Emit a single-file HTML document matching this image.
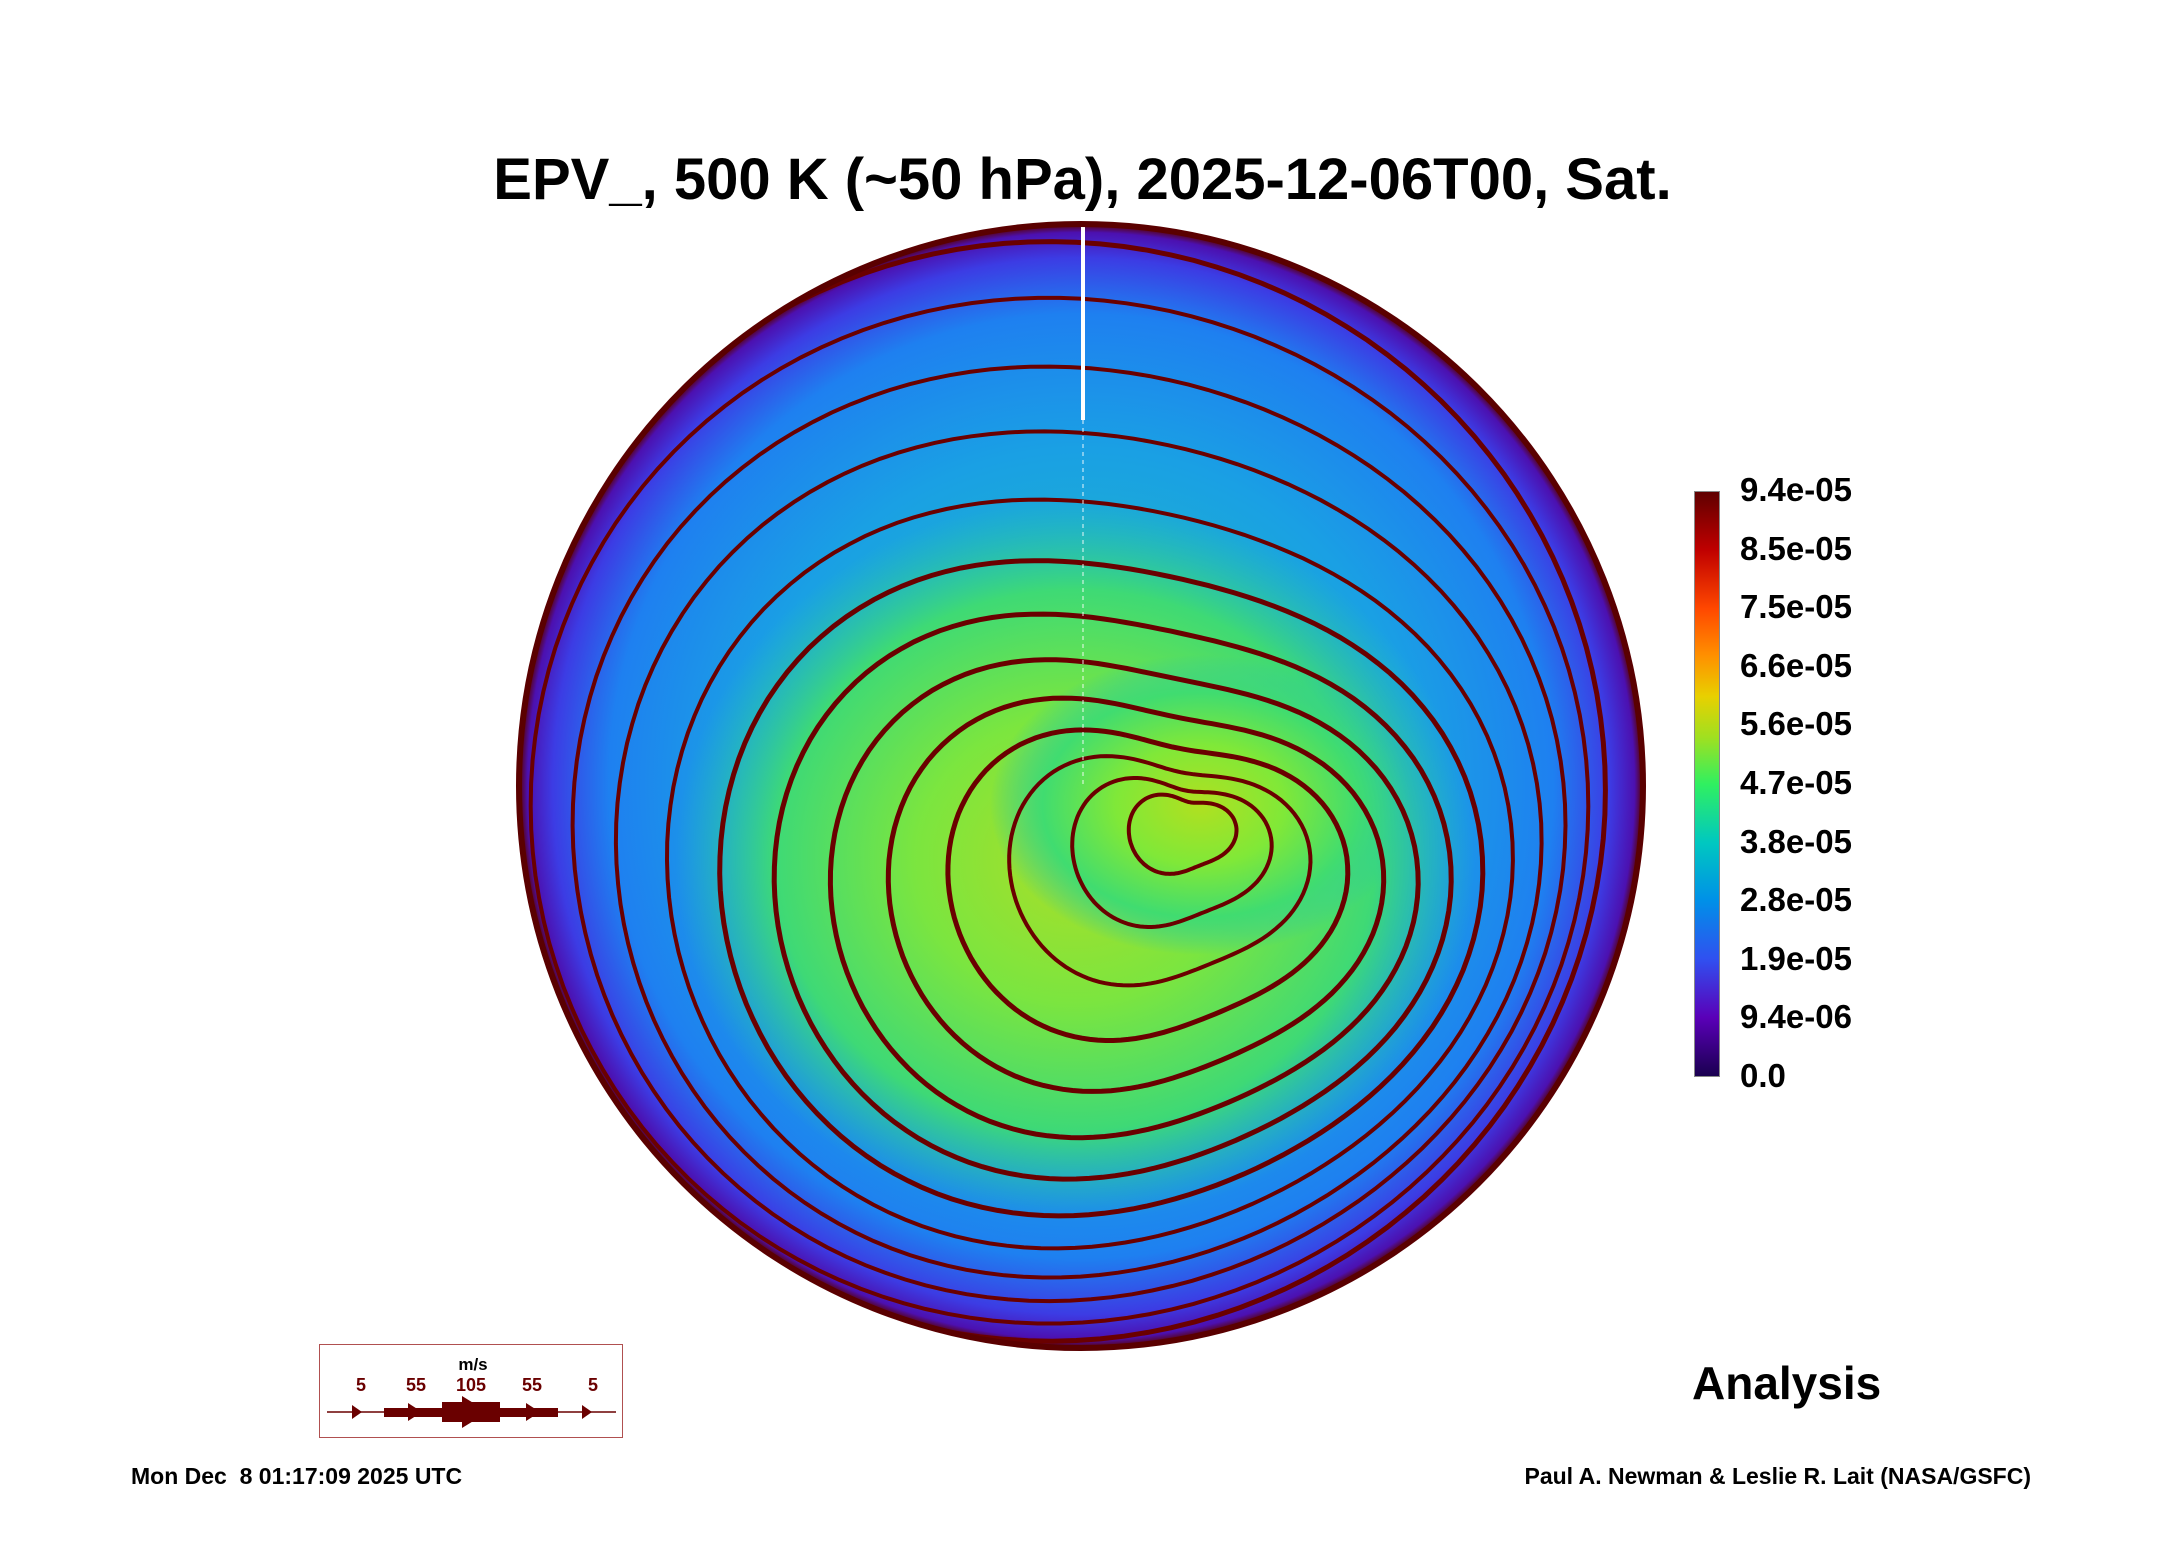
<!DOCTYPE html>
<html><head><meta charset="utf-8">
<style>
html,body{margin:0;padding:0;background:#fff;}
body{width:2165px;height:1561px;position:relative;overflow:hidden;font-family:"Liberation Sans",sans-serif;}
.t{position:absolute;font-weight:bold;color:#000;white-space:nowrap;}
</style></head><body>
<div class="t" style="left:0;width:2165px;text-align:center;top:146px;font-size:58px;">EPV_, 500 K (~50 hPa), 2025-12-06T00, Sat.</div>
<svg id="map" width="2165" height="1561" style="position:absolute;left:0;top:0" xmlns="http://www.w3.org/2000/svg">
<defs>
<radialGradient id="bg" cx="0.5" cy="0.5" r="0.5">
<stop offset="0" stop-color="#20c8b0"/>
<stop offset="0.6" stop-color="#1aa0e4"/>
<stop offset="0.84" stop-color="#1e80f0"/>
<stop offset="0.94" stop-color="#3c3ce4"/>
<stop offset="0.985" stop-color="#4c10b0"/>
<stop offset="1" stop-color="#5a0000"/>
</radialGradient>
<radialGradient id="core" cx="0.5" cy="0.5" r="0.5">
<stop offset="0" stop-color="#b0e020"/>
<stop offset="0.4" stop-color="#80e838"/>
<stop offset="0.75" stop-color="#40dc70"/>
<stop offset="1" stop-color="#28c8a8" stop-opacity="0"/>
</radialGradient>
<clipPath id="disk"><circle cx="1081" cy="786" r="562"/></clipPath>
</defs>
<circle cx="1081" cy="786" r="562" fill="url(#bg)"/>
<g id="field" clip-path="url(#disk)"></g>
<g id="stream" clip-path="url(#disk)"></g>
<line x1="1083" y1="226" x2="1083" y2="420" stroke="#fff" stroke-width="4"/>
<line x1="1083" y1="420" x2="1083" y2="786" stroke="#fff" stroke-width="1.5" stroke-dasharray="4,4" opacity="0.6"/>
<circle cx="1081" cy="786" r="562" fill="none" stroke="#5a0000" stroke-width="6"/>
</svg>

<div style="position:absolute;left:1694px;top:491px;width:24px;height:584px;border:1px solid #888;background:linear-gradient(to top,#1a0050,#5a00b8 10%,#3050f0 20%,#0090e8 30%,#00c8c0 40%,#30f060 50%,#a0e020 58%,#e8d000 65%,#ff9000 72%,#ff4800 80%,#c00000 90%,#600000);"></div>
<div id="cbl"></div>

<div class="t" style="left:1692px;top:1356px;font-size:46px;">Analysis</div>

<div style="position:absolute;left:319px;top:1344px;width:302px;height:92px;border:1.5px solid #b05050;"></div>
<svg width="2165" height="1561" style="position:absolute;left:0;top:0;pointer-events:none">
<text x="473" y="1370" font-family="Liberation Sans" font-weight="bold" font-size="17" text-anchor="middle" fill="#000">m/s</text>
<g font-family="Liberation Sans" font-weight="bold" font-size="18" text-anchor="middle" fill="#6a0000">
<text x="361" y="1391">5</text><text x="416" y="1391">55</text><text x="471" y="1391">105</text><text x="532" y="1391">55</text><text x="593" y="1391">5</text></g>
<line x1="327" y1="1412" x2="616" y2="1412" stroke="#6a0000" stroke-width="1.5"/>
<rect x="384" y="1408" width="174" height="9" fill="#6a0000"/>
<rect x="442" y="1402" width="58" height="20" fill="#6a0000"/>
<polygon points="352,1405 362,1412 352,1419" fill="#6a0000"/>
<polygon points="408,1403 422,1412 408,1421" fill="#6a0000"/>
<polygon points="462,1396 488,1412 462,1428" fill="#6a0000"/>
<polygon points="526,1403 540,1412 526,1421" fill="#6a0000"/>
<polygon points="582,1405 592,1412 582,1419" fill="#6a0000"/>
</svg>

<div class="t" style="left:131px;top:1463px;font-size:23px;">Mon Dec&nbsp; 8 01:17:09 2025 UTC</div>
<div class="t" style="right:134px;top:1463px;font-size:23px;">Paul A. Newman &amp; Leslie R. Lait (NASA/GSFC)</div>

<script>
const cbLabels=["9.4e-05","8.5e-05","7.5e-05","6.6e-05","5.6e-05","4.7e-05","3.8e-05","2.8e-05","1.9e-05","9.4e-06","0.0"];
const streamScales=[0.08,0.15,0.23,0.31,0.39,0.47,0.55,0.63,0.71,0.79,0.86,0.93,0.985];
const streamWidths=[4,4,4,5,5,5,5,5,4,4,4,4,5];
const NS="http://www.w3.org/2000/svg";
const cbl=document.getElementById('cbl');
cbLabels.forEach((t,i)=>{const d=document.createElement('div');d.className='t';
d.style.cssText='left:1740px;font-size:33px;top:'+(490+i*58.6-19)+'px';d.textContent=t;


cbl.appendChild(d);});
const field=document.getElementById('field');
function el(n,a){const e=document.createElementNS(NS,n);for(const k in a)e.setAttribute(k,a[k]);return e;}
const blob=el('ellipse',{cx:1075,cy:860,rx:400,ry:360,fill:'url(#core)',opacity:0.95});


field.appendChild(blob);
const blob2=el('ellipse',{cx:1200,cy:805,rx:210,ry:150,fill:'url(#core)'});


field.appendChild(blob2);
const R=560;
function deform(th,s){
 const a=(1-s);
 return 1+a*(0.22*Math.cos(2*th)+0.12*Math.cos(th-2.4)+0.08*Math.cos(3*th+0.5));
}
const st=document.getElementById('stream');
streamScales.forEach((s,i)=>{
 const ccx=1195-145*s, ccy=812+85*Math.sin(Math.PI*s)-26*s;
 let d='';
 for(let k=0;k<=144;k++){const th=k/144*2*Math.PI;const r=R*s*deform(th,s);
  const x=ccx+r*Math.cos(th), y=ccy+r*Math.sin(th);
  d+=(k?'L':'M')+x.toFixed(1)+','+y.toFixed(1);}
 const p=el('path',{d:d+'Z',fill:'none',stroke:'#6a0000','stroke-width':streamWidths[i]});
 
 
 st.appendChild(p);
});
</script>
</body></html>
